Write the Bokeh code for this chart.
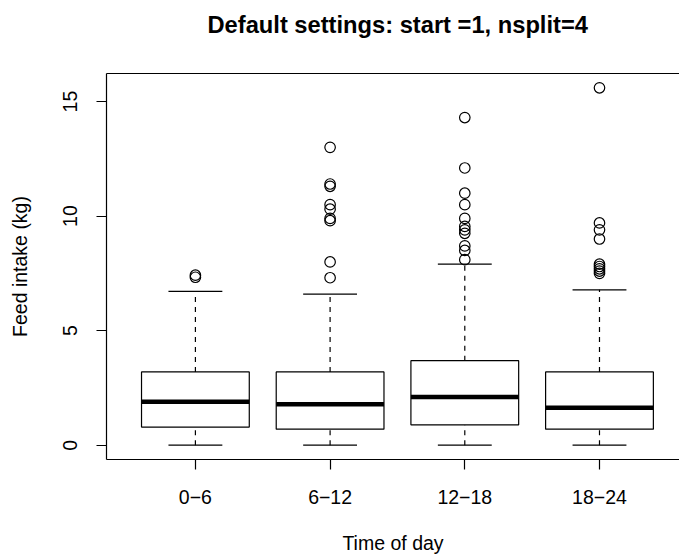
from bokeh.plotting import figure
from bokeh.models import Range1d, FixedTicker, LinearAxis, ColumnDataSource
from bokeh.embed import file_html
from bokeh.resources import INLINE

# ---- data ----
categories = ["0\u22126", "6\u221212", "12\u221218", "18\u221224"]
whisker_low = [0.0, 0.0, 0.0, 0.0]
q1 = [0.79, 0.70, 0.89, 0.70]
median = [1.90, 1.79, 2.10, 1.64]
q3 = [3.20, 3.20, 3.69, 3.20]
whisker_high = [6.71, 6.59, 7.90, 6.78]
outliers_0_6 = [7.33, 7.42]
outliers_6_12 = [7.31, 8.0, 9.8, 9.9, 10.3, 10.5, 11.3, 11.4, 13.0]
outliers_12_18 = [8.1, 8.5, 8.7, 9.25, 9.4, 9.55, 9.9, 10.5, 11.0, 12.1, 14.3]
outliers_18_24 = [7.5, 7.6, 7.7, 7.8, 7.9, 9.0, 9.4, 9.7, 15.6]
y_ticks = [0, 5, 10, 15]

title_text = "Default settings: start =1, nsplit=4"
x_label = "Time of day"
y_label = "Feed intake (kg)"

FONT = "Liberation Sans"

pos = [i + 1 for i in range(len(categories))]
half = 0.4
cap = 0.2

box_src = ColumnDataSource(dict(
    x=pos,
    left=[p - half for p in pos],
    right=[p + half for p in pos],
    cl=[p - cap for p in pos],
    cr=[p + cap for p in pos],
    low=whisker_low, q1=q1, med=median, q3=q3, high=whisker_high,
))

out_x, out_y = [], []
for p_, vals in zip(pos, [outliers_0_6, outliers_6_12, outliers_12_18, outliers_18_24]):
    out_x += [p_] * len(vals)
    out_y += vals

x_lo, x_hi = 0.34, 4.594
y_lo, y_hi = -0.624, 16.224
p = figure(width=679, height=556,
           x_range=Range1d(x_lo, x_hi), y_range=Range1d(y_lo, y_hi),
           output_backend="svg", toolbar_location=None,
           min_border_left=106, min_border_right=0, min_border_top=73, min_border_bottom=97)
p.outline_line_color = None
p.xgrid.grid_line_color = None
p.ygrid.grid_line_color = None
p.background_fill_color = "white"
p.border_fill_color = "white"

LW = 1.2
# whiskers (dashed)
p.segment(x0="x", x1="x", y0="q3", y1="high", source=box_src, line_color="black",
          line_width=LW, line_dash="5 5")
p.segment(x0="x", x1="x", y0="low", y1="q1", source=box_src, line_color="black",
          line_width=LW, line_dash="5 5")
# caps
p.segment(x0="cl", x1="cr", y0="high", y1="high", source=box_src, line_color="black", line_width=LW)
p.segment(x0="cl", x1="cr", y0="low", y1="low", source=box_src, line_color="black", line_width=LW)
# boxes
p.quad(left="left", right="right", bottom="q1", top="q3", source=box_src,
       fill_color="white", line_color="black", line_width=LW)
# medians
p.segment(x0="left", x1="right", y0="med", y1="med", source=box_src, line_color="black", line_width=4.5)
# outliers
p.scatter(out_x, out_y, marker="circle", size=10.5, fill_color=None, line_color="black", line_width=LW)

# axes
xa = p.xaxis[0]
xa.ticker = FixedTicker(ticks=pos)
xa.major_label_overrides = {p_: c for p_, c in zip(pos, categories)}
ya = p.yaxis[0]
ya.ticker = FixedTicker(ticks=y_ticks)
ya.major_label_orientation = "vertical"
for ax in (xa, ya):
    ax.minor_tick_line_color = None
    ax.major_tick_in = 0
    ax.major_tick_out = 10
    ax.axis_line_color = "black"
    ax.axis_line_width = LW
    ax.major_tick_line_color = "black"
    ax.major_tick_line_width = LW
    ax.major_label_text_font = FONT
    ax.major_label_text_font_size = "19.5px"
    ax.major_label_text_color = "black"
    ax.axis_label_text_font = FONT
    ax.axis_label_text_font_size = "19.5px"
    ax.axis_label_text_font_style = "normal"
    ax.axis_label_text_color = "black"
xa.axis_label = x_label
ya.axis_label = y_label
xa.major_label_standoff = 20
xa.axis_label_standoff = 25
ya.major_label_standoff = 19
ya.axis_label_standoff = 30

# top edge of the box; a single practically invisible tick gives the panel
# height that puts the title where it sits in the reference
top = LinearAxis(ticker=FixedTicker(ticks=[x_lo + 0.16]), major_tick_in=0, major_tick_out=36,
                 major_tick_line_color="white", major_tick_line_width=0.01,
                 minor_tick_in=0, minor_tick_out=0, major_label_standoff=0,
                 major_label_overrides={x_lo + 0.16: ""},
                 major_label_text_font_size="0px",
                 axis_line_color="black", axis_line_width=LW)
p.add_layout(top, "above")

p.title.text = title_text
p.title.align = "left"
p.title.offset = 101
p.title.standoff = 0
p.title.vertical_align = "bottom"
p.title.text_font = FONT
p.title.text_font_size = "23.7px"
p.title.text_font_style = "bold"
p.title.text_color = "black"

open("out.html", "w").write(file_html(p, INLINE))
